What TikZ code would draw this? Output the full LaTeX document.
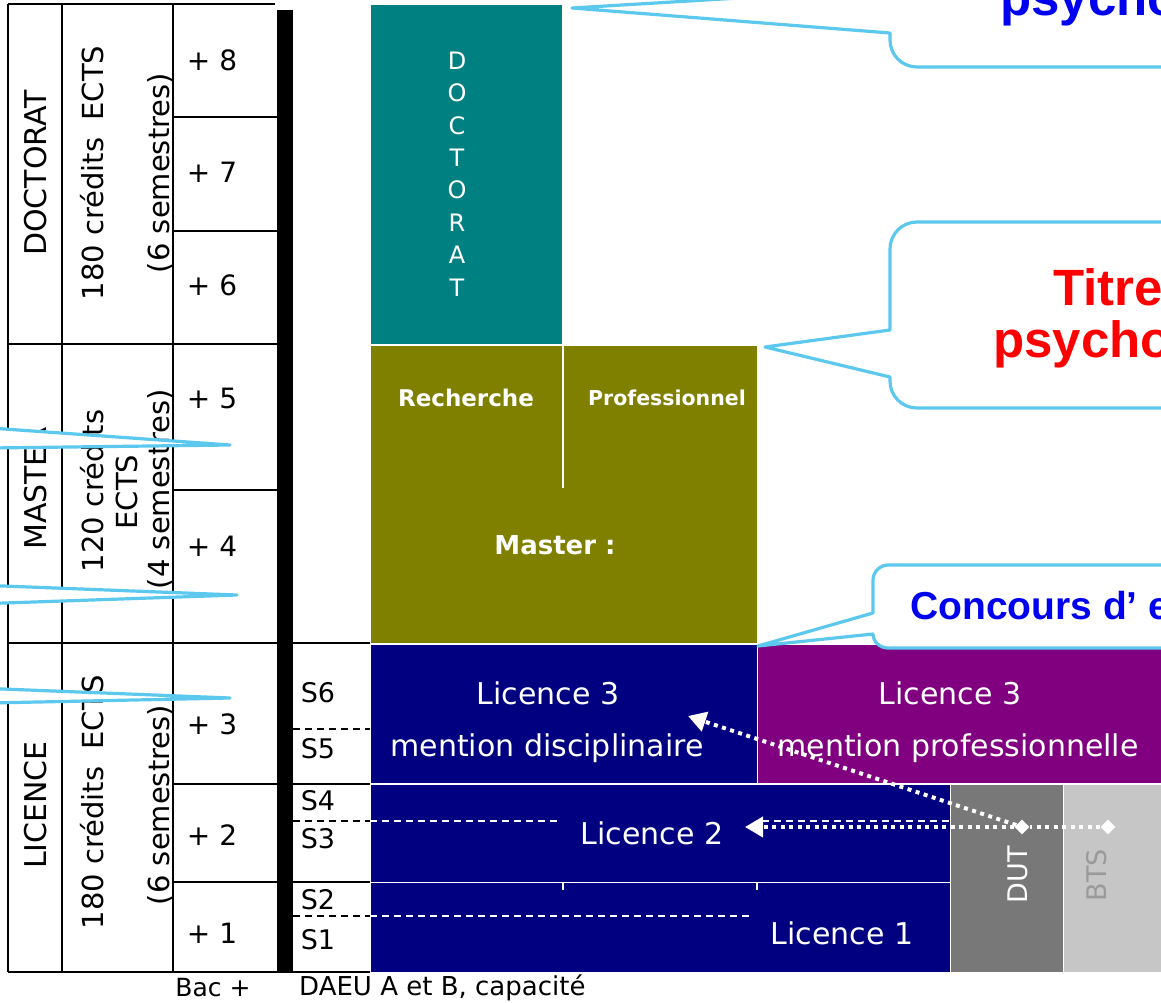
\documentclass[tikz,border=0pt]{standalone}
\usepackage{fontspec}
\setmainfont{DejaVu Sans}
\newfontfamily\callfont{Liberation Sans}
\usetikzlibrary{arrows.meta,shapes.geometric}
\definecolor{navyc}{HTML}{000080}
\definecolor{purplec}{HTML}{800080}
\definecolor{olivec}{HTML}{808000}
\definecolor{tealc}{HTML}{008080}
\definecolor{dutc}{HTML}{787878}
\definecolor{btsc}{HTML}{C6C6C6}
\definecolor{btst}{HTML}{9A9A9A}
\definecolor{callc}{HTML}{5CC8EE}
\definecolor{bluet}{HTML}{0000F0}
\definecolor{redt}{HTML}{FF0000}
\newcommand\fsz[1]{\fontsize{#1}{#1}\selectfont}
\begin{document}
\begin{tikzpicture}[x=1pt,y=-1pt,
  tbl/.style={line width=1.4pt,draw=black},
  lab/.style={inner sep=0pt,font=\fsz{28}},
  slab/.style={inner sep=0pt,font=\fsz{27}},
  rot/.style={inner sep=0pt,rotate=90,font=\fsz{29}},
  blk/.style={draw=white,line width=1.2pt,inner sep=0pt,anchor=north west},
  wlab/.style={inner sep=0pt,text=white,font=\fsz{30}},
  wbold/.style={inner sep=0pt,text=white,font=\bfseries\fsz{23}},
  call/.style={draw=callc,line width=3.2pt,fill=white,line join=round},
  dots/.style={draw=white,line width=4pt,dash pattern=on 4pt off 4.5pt},
  tipw/.style={-{Triangle[width=20pt,length=18pt,fill=white]}},
  dmark/.style={diamond,fill=white,inner sep=0pt,minimum size=15pt},
  ctext/.style={inner sep=0pt,anchor=base west,font=\callfont\bfseries\fsz{51}},
  dsh/.style={line width=1.3pt,dash pattern=on 7pt off 5pt}
]
\useasboundingbox (0,0) rectangle (1161,1003);
\clip (0,0) rectangle (1161,1003);
\fill[white] (0,0) rectangle (1161,1003);

% ---------- table ----------
\draw[tbl] (8,4) -- (275,4);
\draw[tbl] (8,4) -- (8,972);
\draw[tbl] (62,4) -- (62,972);
\draw[tbl] (173,4) -- (173,972);
\draw[tbl] (173,117) -- (277,117);
\draw[tbl] (173,231) -- (277,231);
\draw[tbl] (8,344) -- (293,344);
\draw[tbl] (173,490) -- (277,490);
\draw[tbl] (8,643) -- (370,643);
\draw[tbl] (173,784) -- (370,784);
\draw[tbl] (173,882) -- (370,882);
\draw[tbl] (8,972) -- (1161,972);
\node[fill=black,inner sep=0pt,minimum width=16pt,minimum height=962pt,anchor=north west] (bar) at (277,10) {};

% rotated column labels
\node[rot,font=\fsz{30}] (docT) at (36,173) {DOCTORAT};
\node[rot] (docC) at (92,173) {180 crédits\hspace{0.6em}ECTS};
\node[rot] (docS) at (160,173) {(6 semestres)};
\node[rot,font=\fsz{30}] (masT) at (36,488) {MASTER};
\node[rot] (masC) at (92,491) {120 crédits};
\node[rot] (masE) at (127,492) {ECTS};
\node[rot] (masS) at (160,489) {(4 semestres)};
\node[rot,font=\fsz{30}] (licT) at (36,805) {LICENCE};
\node[rot] (licC) at (92,802) {180 crédits\hspace{0.6em}ECTS};
\node[rot] (licS) at (160,805) {(6 semestres)};

% year labels
\node[lab] (p8) at (212,60) {+ 8};
\node[lab] (p7) at (212,172) {+ 7};
\node[lab] (p6) at (212,285) {+ 6};
\node[lab] (p5) at (212,398) {+ 5};
\node[lab] (p4) at (212,546) {+ 4};
\node[lab] (p3) at (212,724) {+ 3};
\node[lab] (p2) at (212,835) {+ 2};
\node[lab] (p1) at (212,933) {+ 1};

% semester labels
\node[slab] (s6) at (318,693) {S6};
\node[slab] (s5) at (318,749) {S5};
\node[slab] (s4) at (318,801) {S4};
\node[slab] (s3) at (318,839) {S3};
\node[slab] (s2) at (318,900) {S2};
\node[slab] (s1) at (318,940) {S1};

\node[slab,font=\fsz{25}] (bac) at (213,988) {Bac +};
\node[slab,font=\fsz{26},anchor=west] (daeu) at (299,988) {DAEU A et B, capacité};

% ---------- coloured blocks ----------
\node[blk,fill=tealc,minimum width=192pt,minimum height=340pt] (doc) at (370,4) {};
\node[blk,fill=olivec,minimum width=387pt,minimum height=298pt] (mas) at (370,345) {};
\node[blk,fill=navyc,minimum width=387pt,minimum height=139pt] (l3d) at (370,644) {};
\node[blk,fill=purplec,minimum width=420pt,minimum height=139pt] (l3p) at (757,644) {};
\node[blk,fill=navyc,minimum width=580pt,minimum height=98pt] (l2) at (370,784) {};
\node[blk,fill=navyc,minimum width=580pt,minimum height=90pt] (l1) at (370,882) {};
\node[blk,fill=dutc,minimum width=113pt,minimum height=188pt] (dut) at (950,784) {};
\node[blk,fill=btsc,minimum width=110pt,minimum height=188pt] (bts) at (1063,784) {};
\draw[white,line width=1.2pt] (563,345) -- (563,488);
\draw[white,line width=1.2pt] (563,882) -- (563,890);
\draw[white,line width=1.2pt] (757,882) -- (757,890);

% dashed semester separators
\draw[dsh] (293,729) -- (370,729);
\draw[dsh] (293,821) -- (370,821);
\draw[dsh,white] (370,821) -- (558,821);
\draw[dsh,white] (762,821) -- (950,821);
\draw[dsh] (293,916) -- (370,916);
\draw[dsh,white] (370,916) -- (752,916);

% block texts
\node[inner sep=0pt,text=white,font=\fontsize{24}{32.4}\selectfont,align=center] (docL) at (457,174) {D\\O\\C\\T\\O\\R\\A\\T};
\node[wbold] (rech) at (466,398) {Recherche};
\node[wbold,font=\bfseries\fsz{20.5}] (prof) at (667,398) {Professionnel};
\node[wbold,font=\bfseries\fsz{26}] (mast) at (555,545) {Master :};
\node[wlab] (l3da) at (548,693) {Licence 3};
\node[wlab] (l3db) at (547,748) {mention disciplinaire};
\node[wlab] (l3pa) at (950,693) {Licence 3};
\node[wlab] (l3pb) at (958,748) {mention professionnelle};
\node[wlab] (l2t) at (652,833) {Licence 2};
\node[wlab] (l1t) at (842,933) {Licence 1};
\node[inner sep=0pt,rotate=90,text=white,font=\fsz{27}] (dutt) at (1018,875) {DUT};
\node[inner sep=0pt,rotate=90,text=btst,font=\fsz{27}] (btst) at (1097,875) {BTS};

% dotted white arrows
\node[dmark] (dd) at (1022,827) {};
\node[dmark] (bd) at (1108,827) {};
\coordinate (l2tip) at (745,827);
\coordinate (l3tip) at (688,716);
\draw[dots] (bd) -- (dd);
\draw[dots,tipw] (dd) -- (l2tip);
\draw[dots,tipw] (dd) -- (l3tip);

% ---------- callouts ----------
\draw[call] (1200,-60) -- (890,-60) -- (890,-11) -- (572,8) -- (890,33) -- (890,40)
  .. controls (890,55) and (902,67) .. (917,67) -- (1200,67);
\node[ctext,text=bluet] (c1t) at (1000,16) {psycho};

\draw[call] (1200,222) -- (917,222) .. controls (902,222) and (890,234) .. (890,249)
  -- (890,330) -- (765,347) -- (890,377) -- (890,381)
  .. controls (890,396) and (902,408) .. (917,408) -- (1200,408);
\node[ctext,text=redt] (c2a) at (1053,305) {Titre};
\node[ctext,text=redt] (c2b) at (993,357) {psycho};

\draw[call] (1200,565) -- (888,565) .. controls (880,565) and (873,572) .. (873,580)
  -- (873,613) -- (758,646) -- (873,634)
  .. controls (873,642) and (880,648) .. (888,648) -- (1200,648);
\node[ctext,text=bluet,font=\callfont\bfseries\fsz{39}] (c3t) at (910,619) {Concours d’ e};

\draw[call] (-10,428) -- (230,445) -- (-10,448);
\draw[call] (-10,585.5) -- (237,595) -- (-10,603.5);
\draw[call] (-10,688.5) -- (230,698) -- (-10,703);
\end{tikzpicture}
\end{document}
